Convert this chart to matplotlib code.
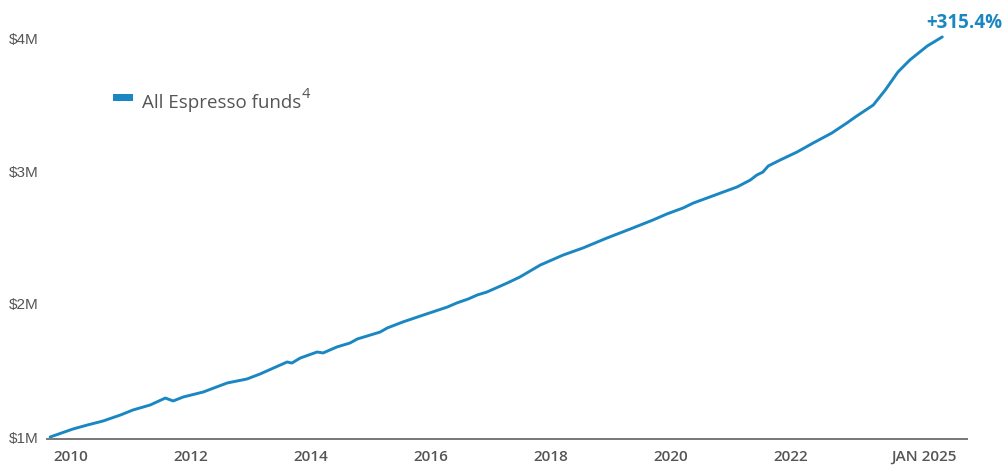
import matplotlib
matplotlib.use("Agg")
import matplotlib.pyplot as plt
from matplotlib.patches import Rectangle

# growth of $1M (year fraction, $M)
years = [2009.66, 2010.04, 2010.28, 2010.54, 2010.83, 2011.04, 2011.33, 2011.58, 2011.71,
         2011.88, 2012.21, 2012.61, 2012.94, 2013.16, 2013.61, 2013.69, 2013.83, 2014.11,
         2014.21, 2014.44, 2014.66, 2014.78, 2015.16, 2015.28, 2015.54, 2015.88, 2016.28,
         2016.44, 2016.63, 2016.78, 2016.94, 2017.28, 2017.49, 2017.83, 2018.21, 2018.54,
         2018.94, 2019.33, 2019.71, 2019.94, 2020.21, 2020.38, 2020.61, 2020.88, 2021.11,
         2021.33, 2021.44, 2021.54, 2021.63, 2021.83, 2022.11, 2022.38, 2022.69, 2022.94,
         2023.08, 2023.38, 2023.58, 2023.79, 2023.99, 2024.28, 2024.53]
values = [1.000, 1.060, 1.090, 1.120, 1.165, 1.203, 1.241, 1.293, 1.271,
          1.301, 1.338, 1.406, 1.436, 1.474, 1.564, 1.556, 1.594, 1.639,
          1.632, 1.677, 1.707, 1.737, 1.789, 1.820, 1.865, 1.917, 1.977,
          2.008, 2.038, 2.068, 2.090, 2.158, 2.203, 2.293, 2.368, 2.421,
          2.496, 2.564, 2.632, 2.677, 2.722, 2.759, 2.797, 2.842, 2.880,
          2.932, 2.970, 2.992, 3.038, 3.083, 3.143, 3.211, 3.286, 3.361,
          3.406, 3.496, 3.609, 3.744, 3.835, 3.940, 4.008]

x_ticks = [2010, 2012, 2014, 2016, 2018, 2020, 2022, 2024.23]
x_labels = ["2010", "2012", "2014", "2016", "2018", "2020", "2022", "JAN 2025"]
y_ticks = [1, 2, 3, 4]
y_labels = ["$1M", "$2M", "$3M", "$4M"]

series_name = "All Espresso funds"
footnote = "4"
total_return = "+315.4%"

blue = "#1a87c2"
grey = "#555555"

W, H = 1004, 470
fig = plt.figure(figsize=(W / 100, H / 100), dpi=100)
ax = fig.add_axes([47 / W, 1 - 439 / H, (967 - 47) / W, (439 - 20) / H])

ax.plot(years, values, color=blue, lw=2.1, solid_capstyle="round", solid_joinstyle="round")

ax.set_xlim(2009.608, 2024.942)
ax.set_ylim(1 - 2 / 133, 1 + (437 - 20) / 133)

ax.set_xticks(x_ticks)
ax.set_xticklabels(x_labels, fontfamily="Open Sans", fontweight="semibold",
                   fontsize=11, color=grey)
ax.set_yticks(y_ticks)
ax.set_yticklabels(y_labels, fontfamily="Liberation Sans", fontsize=11, color=grey)
ax.tick_params(axis="both", length=0)
ax.tick_params(axis="x", pad=8)
ax.tick_params(axis="y", pad=6)

for s in ["top", "right", "left"]:
    ax.spines[s].set_visible(False)
ax.spines["bottom"].set_color("#777777")
ax.spines["bottom"].set_linewidth(1.4)

# legend drawn by hand
fig.add_artist(Rectangle((113 / W, 1 - 101 / H), 20 / W, 7 / H,
                         transform=fig.transFigure, color=blue, lw=0))
fig.text(142 / W, 1 - 108 / H, series_name, fontfamily="Open Sans", fontsize=13.5,
         color=grey, va="baseline", ha="left")
fig.text(302 / W, 1 - 98 / H, footnote, fontfamily="Open Sans", fontsize=10.5,
         color=grey, va="baseline", ha="left")

fig.text(1002 / W, 1 - 28 / H, total_return, fontfamily="Open Sans", fontweight="bold",
         fontsize=13.5, color=blue, va="baseline", ha="right")

fig.savefig("out.png", dpi=100)
